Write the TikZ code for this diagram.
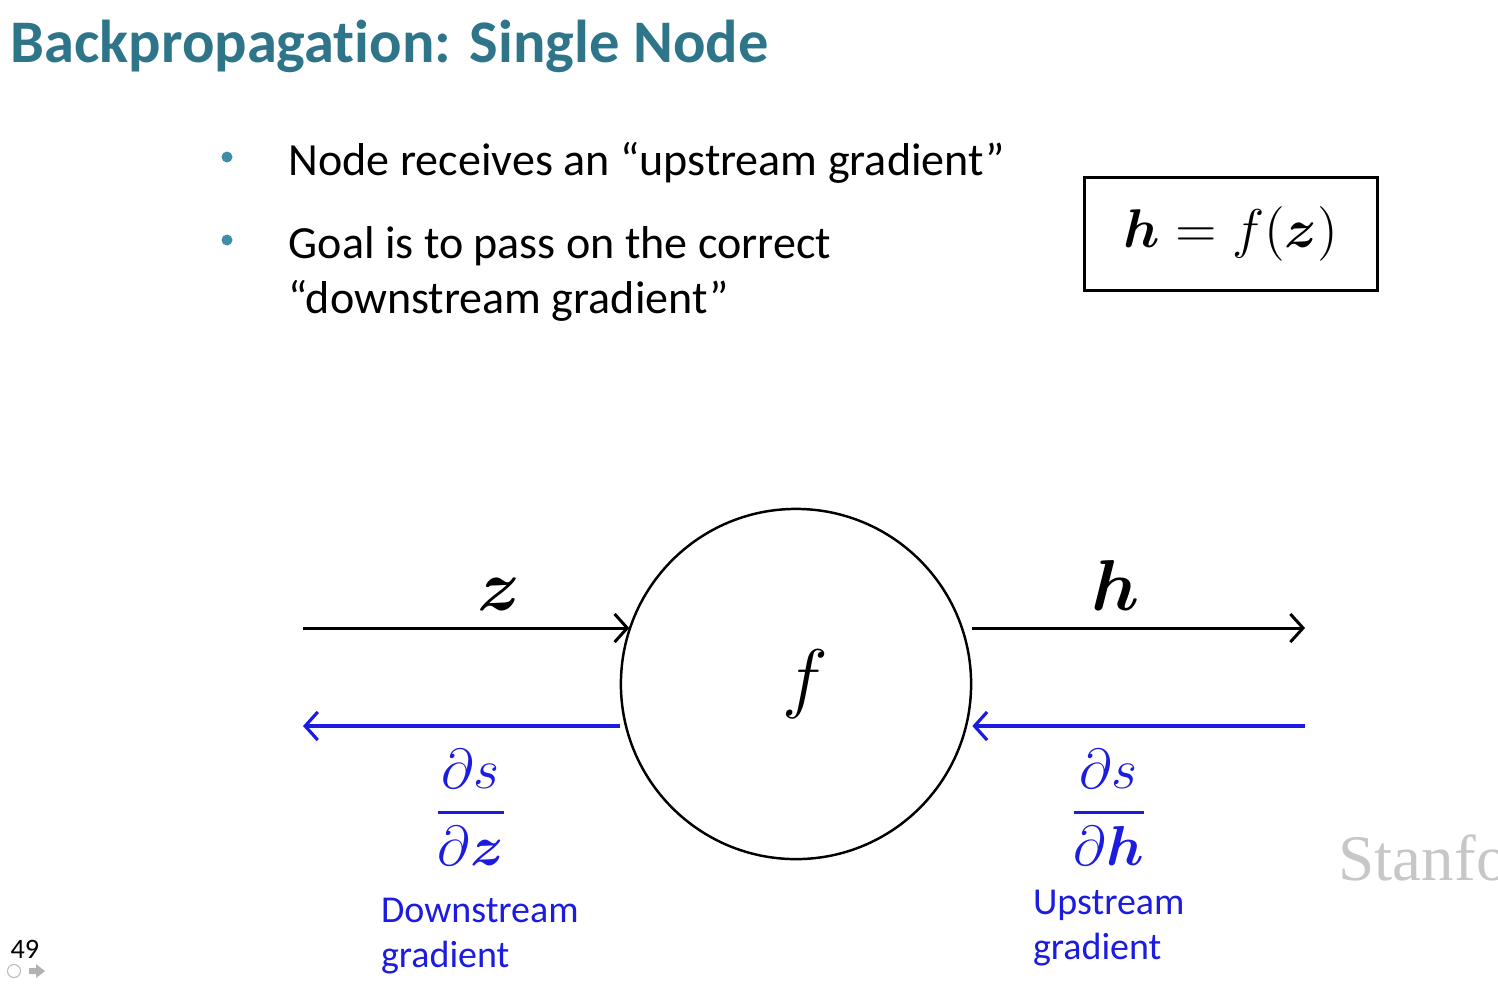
\RequirePackage{fix-cm}
\documentclass[tikz,border=0pt]{standalone}
\usepackage{amsmath}
\usepackage{fontspec}
\setmainfont{Carlito}[Ligatures=NoCommon]
\newfontfamily\logofont{Liberation Serif}
\usepackage{tikz}
\usetikzlibrary{positioning,arrows.meta}

\definecolor{titleteal}{HTML}{2E7589}
\definecolor{bulletteal}{HTML}{3F8DA8}
\definecolor{gradblue}{HTML}{1C1CE0}

\begin{document}
\begin{tikzpicture}[x=0.01cm, y=-0.01cm,
    txt/.style={anchor=base west, inner sep=0},
    dot/.style={circle, fill=bulletteal, inner sep=0, minimum size=0.11cm},
    flow/.style={line width=0.85pt, -{Straight Barb[length=3.6pt, width=8pt, line width=0.85pt]}},
    back/.style={line width=0.9pt, gradblue, -{Straight Barb[length=3.6pt, width=8pt, line width=0.9pt]}},
    bigmath/.style={font=\fontsize{20.5}{24}\selectfont, inner sep=0},
    fracmath/.style={font=\fontsize{16}{19}\selectfont, text=gradblue, inner sep=0},
    note/.style={font=\fontsize{10.8}{12.8}\selectfont, text=gradblue, align=left, inner sep=0}]
    \useasboundingbox (0,0) rectangle (1498,984);

    % Title
    \node[txt, font=\fontsize{17.2}{20}\selectfont\bfseries, text=titleteal] (title) at (10,62) {Backpropagation: Single Node};

    % Bullets
    \node[dot] (b1) at (227,157) {};
    \node[txt, font=\fontsize{13.1}{15.6}\selectfont] (t1) at (288,175) {Node receives an “upstream gradient”};
    \node[dot] (b2) at (227,240) {};
    \node[txt, font=\fontsize{13.1}{15.6}\selectfont] (t2) at (288,258) {Goal is to pass on the correct};
    \node[txt, font=\fontsize{13.1}{15.6}\selectfont] (t3) at (288,313) {“downstream gradient”};

    % Boxed equation
    \node[draw, line width=0.85pt, minimum width=2.93cm, minimum height=1.12cm, font=\fontsize{15.5}{19}\selectfont] (eq) at (1231,234) {$\boldsymbol{h} = f(\boldsymbol{z})$};

    % The node itself
    \node[draw, circle, line width=0.7pt, minimum size=3.5cm, inner sep=0, font=\fontsize{22}{26}\selectfont] (f) at (796,684) {\hspace*{0.18cm}$f$};

    % Free ends of the connectors
    \coordinate (zin) at (303,628);
    \coordinate (hout) at (1305,628);
    \coordinate (dzout) at (303,726);
    \coordinate (dhin) at (1305,726);

    % Forward pass
    \draw[flow] (zin) -- node[pos=0.6, above=0.16cm, bigmath] (zlab) {$\boldsymbol{z}$} (f.161.3 |- zin);
    \draw[flow] (f.east |- hout) -- node[pos=0.43, above=0.16cm, bigmath] (hlab) {$\boldsymbol{h}$} (hout);

    % Backward pass
    \draw[back] (f.west |- dzout) -- node[pos=0.47, below=0.22cm, fracmath] (dsdz) {$\displaystyle\frac{\partial s}{\partial \boldsymbol{z}}$} (dzout);
    \draw[back] (dhin) -- node[pos=0.59, below=0.22cm, fracmath] (dsdh) {$\displaystyle\frac{\partial s}{\partial \boldsymbol{h}}$} (f.east |- dhin);

    % Gradient names
    \node[note, below=0.3cm of dsdz, xshift=0.09cm] (down) {Downstream\\gradient};
    \node[note, below=0.22cm of dsdh] (up) {Upstream\\gradient};

    % Footer
    \begin{scope}
        \clip (0,0) rectangle (1498,984);
        \node[txt, font=\logofont\fontsize{18.5}{20}\selectfont, text=black!22] (logo) at (1338,880) {Stanford};
    \end{scope}
    \node[txt, font=\fontsize{8}{9}\selectfont] (page) at (10,958) {49};
    \node[circle, draw=gray!55, line width=0.3pt, minimum size=0.13cm, inner sep=0] (menu) at (14,971) {};
    \fill[gray!60] (29,968) -- (36,968) -- (36,964) -- (45,971) -- (36,978) -- (36,974) -- (29,974) -- cycle;
\end{tikzpicture}
\end{document}
